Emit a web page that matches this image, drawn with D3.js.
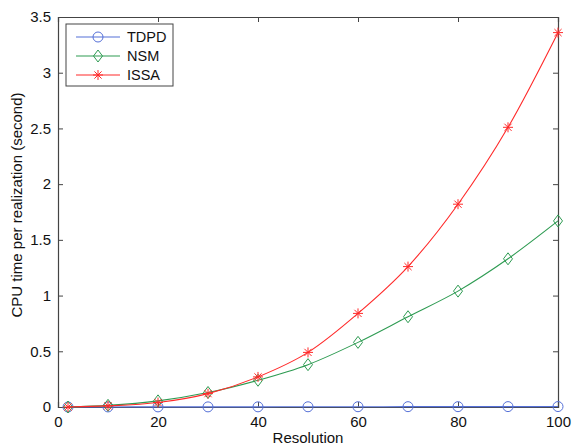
<!DOCTYPE html>
<html>
<head>
<meta charset="utf-8">
<script src="https://cdn.jsdelivr.net/npm/d3@7/dist/d3.min.js"></script>
<style>
  html, body { margin: 0; padding: 0; background: #fff; }
  svg { display: block; font-family: "Liberation Sans", Arial, Helvetica, sans-serif; }
</style>
</head>
<body>
<svg id="chart" width="574" height="447"></svg>
<script>
// Grid resolution at which each method was timed
const resolution = [2, 10, 20, 30, 40, 50, 60, 70, 80, 90, 100];

// CPU time per realization (seconds)
const tdpd = [0.0, 0.0005, 0.001, 0.001, 0.0015, 0.002, 0.0025, 0.003, 0.003, 0.0035, 0.004];
const nsm  = [0.0, 0.015, 0.055, 0.13, 0.24, 0.38, 0.58, 0.81, 1.04, 1.33, 1.67];
const issa = [0.0, 0.01, 0.04, 0.12, 0.27, 0.49, 0.84, 1.26, 1.82, 2.51, 3.36];

const seriesNames = ["TDPD", "NSM", "ISSA"];
const xTicks = [0, 20, 40, 60, 80, 100];
const yTicks = [0, 0.5, 1, 1.5, 2, 2.5, 3, 3.5];

const svg = d3.select("#chart");
const plotLeft = 58, plotRight = 558, plotTop = 17, plotBottom = 407;

const x = d3.scaleLinear().domain([0, 100]).range([plotLeft, plotRight]);
const y = d3.scaleLinear().domain([0, 3.5]).range([plotBottom, plotTop]);

const axisColor = "#444";
const labelSize = "15px";
const series = [
  { name: seriesNames[0], values: tdpd, color: "#5570d8", marker: "circle" },
  { name: seriesNames[1], values: nsm,  color: "#2e9b52", marker: "diamond" },
  { name: seriesNames[2], values: issa, color: "#ff2a2a", marker: "star" }
];

// Axes: ticks point inward, mirrored on top and right like a boxed plot
const tickLen = 5;
const gx = svg.append("g").attr("transform", `translate(0,${plotBottom})`)
  .call(d3.axisBottom(x).tickValues(xTicks).tickSize(-tickLen).tickPadding(9).tickFormat(d3.format("d")));
const gxTop = svg.append("g").attr("transform", `translate(0,${plotTop})`)
  .call(d3.axisTop(x).tickValues(xTicks).tickSize(-tickLen).tickFormat(""));
const gy = svg.append("g").attr("transform", `translate(${plotLeft},0)`)
  .call(d3.axisLeft(y).tickValues(yTicks).tickSize(-tickLen).tickPadding(7).tickFormat(d => String(d)));
const gyRight = svg.append("g").attr("transform", `translate(${plotRight},0)`)
  .call(d3.axisRight(y).tickValues(yTicks).tickSize(-tickLen).tickFormat(""));

[gx, gxTop, gy, gyRight].forEach(g => {
  g.select(".domain").attr("stroke", axisColor).attr("stroke-width", 1.2);
  g.selectAll(".tick line").attr("stroke", axisColor);
  g.selectAll(".tick text").attr("fill", "#111").style("font-size", labelSize)
    .style("font-family", "'Liberation Sans', Arial, sans-serif");
});

// Axis titles
svg.append("text")
  .attr("x", (plotLeft + plotRight) / 2).attr("y", 443)
  .attr("text-anchor", "middle").style("font-size", labelSize).attr("fill", "#111")
  .text("Resolution");
svg.append("text")
  .attr("transform", `translate(22,205) rotate(-90)`)
  .attr("text-anchor", "middle").style("font-size", labelSize).attr("fill", "#111")
  .text("CPU time per realization (second)");

// Marker shapes
function drawMarker(g, type, cx, cy, color) {
  if (type === "circle") {
    g.append("circle").attr("cx", cx).attr("cy", cy).attr("r", 5)
      .attr("fill", "none").attr("stroke", color).attr("stroke-width", 1);
  } else if (type === "diamond") {
    const s = 6;
    g.append("path")
      .attr("d", `M${cx},${cy - s}L${cx + s * 0.75},${cy}L${cx},${cy + s}L${cx - s * 0.75},${cy}Z`)
      .attr("fill", "none").attr("stroke", color).attr("stroke-width", 1);
  } else {
    const s = 5, d = s * 0.72;
    g.append("path")
      .attr("d", `M${cx - s},${cy}L${cx + s},${cy}M${cx},${cy - s}L${cx},${cy + s}` +
                 `M${cx - d},${cy - d}L${cx + d},${cy + d}M${cx - d},${cy + d}L${cx + d},${cy - d}`)
      .attr("fill", "none").attr("stroke", color).attr("stroke-width", 1);
  }
}

const line = d3.line().curve(d3.curveMonotoneX);

// Draw lines, bottom layer first so ISSA sits on top
series.forEach(s => {
  const pts = resolution.map((r, i) => [x(r), y(s.values[i])]);
  const g = svg.append("g");
  g.append("path").attr("d", line(pts)).attr("fill", "none")
    .attr("stroke", s.color).attr("stroke-width", 1.1);
  pts.forEach(p => drawMarker(g, s.marker, p[0], p[1], s.color));
});

// Legend
const lg = svg.append("g");
lg.append("rect").attr("x", 66).attr("y", 24).attr("width", 107).attr("height", 62)
  .attr("fill", "#fff").attr("stroke", axisColor).attr("stroke-width", 1);
series.forEach((s, i) => {
  const ly = 37 + i * 19;
  lg.append("line").attr("x1", 76).attr("x2", 120).attr("y1", ly).attr("y2", ly)
    .attr("stroke", s.color).attr("stroke-width", 1.1);
  drawMarker(lg, s.marker, 98, ly, s.color);
  lg.append("text").attr("x", 127).attr("y", ly + 5).style("font-size", "14.5px")
    .attr("fill", "#111").text(s.name);
});
</script>
</body>
</html>
